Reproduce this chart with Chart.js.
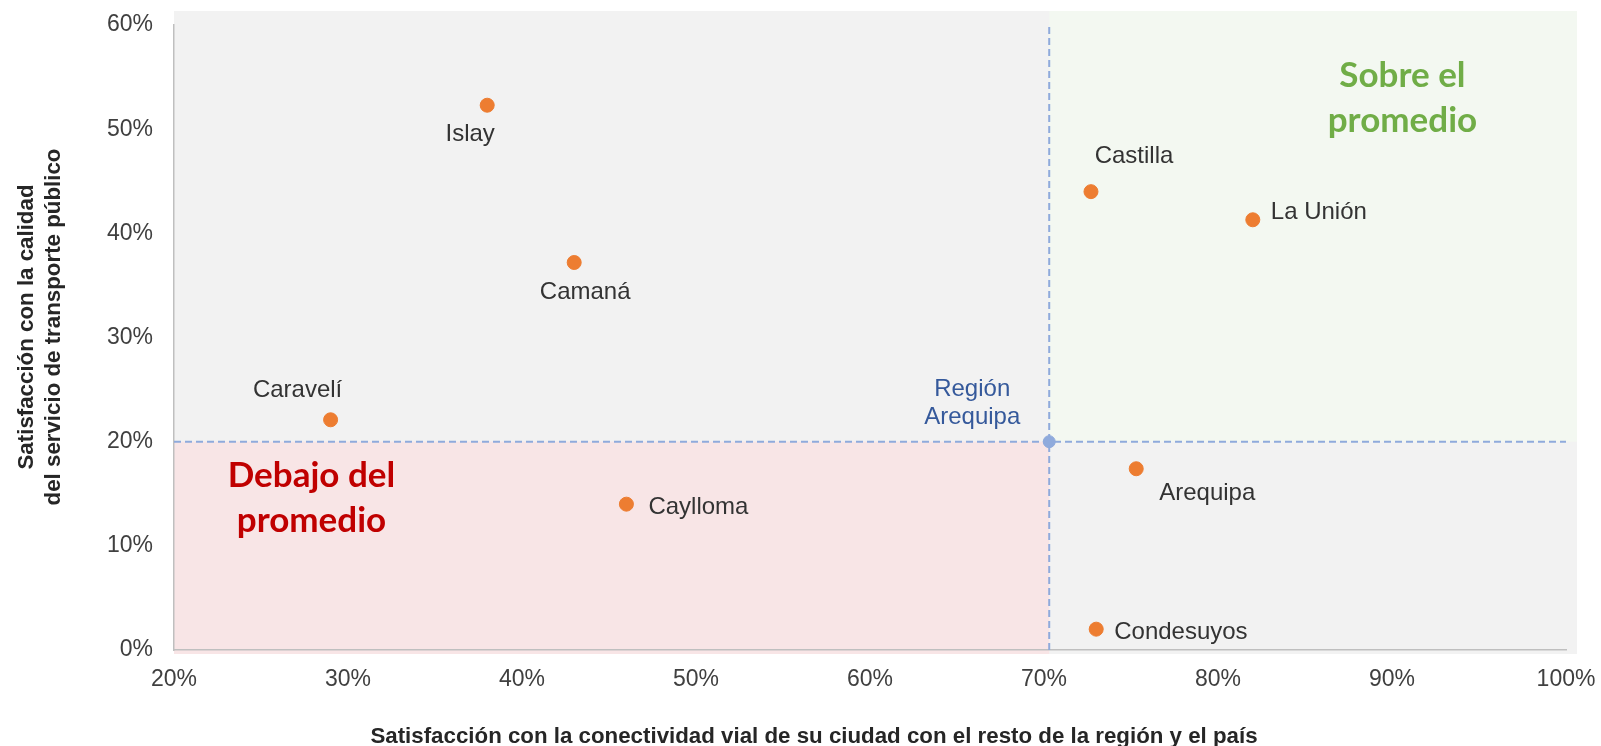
<!DOCTYPE html>
<html>
<head>
<meta charset="utf-8">
<script src="https://cdn.jsdelivr.net/npm/chart.js@4.4.1/dist/chart.umd.min.js"></script>
<style>
  html, body { margin: 0; padding: 0; background: #ffffff; }
  #wrap { width: 1601px; height: 746px; }
</style>
</head>
<body>
<div id="wrap"><canvas id="chart" width="1601" height="746"></canvas></div>
<script>
// provincias de Arequipa
const provincias = ['Islay', 'Camaná', 'Caravelí', 'Caylloma', 'Castilla', 'La Unión', 'Arequipa', 'Condesuyos'];
// eje X: satisfacción con la conectividad vial
const conectividad = [0.380, 0.430, 0.290, 0.460, 0.727, 0.820, 0.753, 0.730];
// eje Y: satisfacción con el transporte público
const transporte = [0.523, 0.372, 0.221, 0.140, 0.440, 0.413, 0.174, 0.020];
// promedio regional
const regionNombre = ['Región', 'Arequipa'];
const regionX = 0.703;
const regionY = 0.200;
// rangos y marcas de los ejes
const xTicks = [0.2, 0.3, 0.4, 0.5, 0.6, 0.7, 0.8, 0.9, 1.0];
const yTicks = [0, 0.1, 0.2, 0.3, 0.4, 0.5, 0.6];

// where each label sits relative to its dot (px), and its alignment
const labelOffsets = [
  { dx: -17, dy: 29, align: 'center' },
  { dx: 11, dy: 30, align: 'center' },
  { dx: -33, dy: -29, align: 'center' },
  { dx: 22, dy: 3, align: 'left' },
  { dx: 43, dy: -35, align: 'center' },
  { dx: 18, dy: -7, align: 'left' },
  { dx: 71, dy: 25, align: 'center' },
  { dx: 18, dy: 3, align: 'left' }
];

const quadrantNotes = [
  { lines: ['Sobre el', 'promedio'], color: '#70AD47', x: 0.906, y: 0.530 },
  { lines: ['Debajo del', 'promedio'], color: '#C00000', x: 0.279, y: 0.146 }
];

const FONT = "'Liberation Sans', Arial, sans-serif";
const pct = v => Math.round(v * 100) + '%';

const points = provincias.map((p, i) => ({ x: conectividad[i], y: transporte[i] }));

const quadrants = {
  id: 'quadrants',
  beforeDraw(chart) {
    const { ctx, chartArea: a, scales: { x, y } } = chart;
    const xr = x.getPixelForValue(regionX);
    const yr = y.getPixelForValue(regionY);
    const top = a.top - 14, right = a.right + 11, bottom = a.bottom + 4;
    ctx.save();
    ctx.fillStyle = '#F2F2F2';
    ctx.fillRect(a.left, top, right - a.left, bottom - top);
    ctx.fillStyle = '#F3F8F1';
    ctx.fillRect(xr, top, right - xr, yr - top);
    ctx.fillStyle = '#F8E5E6';
    ctx.fillRect(a.left, yr, xr - a.left, bottom - yr);
    ctx.restore();
  },
  afterDraw(chart) {
    const { ctx, scales: { x, y } } = chart;
    ctx.save();
    // data labels
    ctx.font = '24px ' + FONT;
    ctx.fillStyle = '#333333';
    ctx.textBaseline = 'middle';
    const meta = chart.getDatasetMeta(0);
    meta.data.forEach((pt, i) => {
      const o = labelOffsets[i];
      ctx.textAlign = o.align;
      ctx.fillText(provincias[i], pt.x + o.dx, pt.y + o.dy);
    });
    // region label
    const rp = chart.getDatasetMeta(1).data[0];
    ctx.fillStyle = '#35599B';
    ctx.textAlign = 'center';
    regionNombre.forEach((t, i) => ctx.fillText(t, rp.x - 77, rp.y - 52 + i * 28));

    // quadrant notes
    ctx.font = "bold 35px Lato, 'Open Sans', sans-serif";
    quadrantNotes.forEach(n => {
      ctx.fillStyle = n.color;
      const cx = x.getPixelForValue(n.x), cy = y.getPixelForValue(n.y);
      n.lines.forEach((t, i) => ctx.fillText(t, cx, cy + (i - 0.5) * 45));
    });

    // axis titles
    ctx.fillStyle = '#262626';
    ctx.font = 'bold 22.3px ' + FONT;
    ctx.fillText('Satisfacción con la conectividad vial de su ciudad con el resto de la región y el país', 814, 737);
    ctx.translate(27, 327);
    ctx.rotate(-Math.PI / 2);
    ctx.fillText('Satisfacción con la calidad', 0, 0);
    ctx.fillText('del servicio de transporte público', 0, 27);
    ctx.restore();
  }
};

new Chart(document.getElementById('chart'), {
  type: 'scatter',
  data: {
    datasets: [
      {
        label: 'Provincias',
        data: points,
        backgroundColor: '#ED7D31',
        borderColor: '#ED7D31',
        pointRadius: 7,
        pointHoverRadius: 7
      },
      {
        label: 'Región Arequipa',
        data: [{ x: regionX, y: regionY }],
        backgroundColor: '#8FAADC',
        borderColor: '#8FAADC',
        pointRadius: 6
      },
      {
        type: 'line',
        label: 'promedio x',
        data: [{ x: regionX, y: yTicks[0] }, { x: regionX, y: yTicks[yTicks.length - 1] }],
        borderColor: '#8FAADC',
        borderWidth: 2,
        borderDash: [7, 4],
        pointRadius: 0,
        showLine: true
      },
      {
        type: 'line',
        label: 'promedio y',
        data: [{ x: xTicks[0], y: regionY }, { x: xTicks[xTicks.length - 1], y: regionY }],
        borderColor: '#8FAADC',
        borderWidth: 2,
        borderDash: [7, 4],
        pointRadius: 0,
        showLine: true
      }
    ]
  },
  options: {
    responsive: false,
    animation: false,
    layout: { padding: { left: 0, right: 35, top: 25, bottom: 0 } },
    plugins: {
      legend: { display: false },
      tooltip: { enabled: false }
    },
    scales: {
      x: {
        type: 'linear',
        min: xTicks[0],
        max: xTicks[xTicks.length - 1],
        afterFit: s => { s.height = 96; s.paddingLeft = 0; s.paddingRight = 0; },
        afterBuildTicks: s => { s.ticks = xTicks.map(v => ({ value: v })); },
        grid: { display: false, drawTicks: false },
        border: { display: true, color: '#BFBFBF', width: 1.5 },
        ticks: {
          padding: 16,
          color: '#404040',
          font: { family: FONT, size: 23 },
          callback: v => pct(v)
        }
      },
      y: {
        type: 'linear',
        min: yTicks[0],
        max: yTicks[yTicks.length - 1],
        afterFit: s => { s.width = 174; s.paddingTop = 0; s.paddingBottom = 0; },
        afterBuildTicks: s => { s.ticks = yTicks.map(v => ({ value: v })); },
        grid: { display: false, drawTicks: false },
        border: { display: true, color: '#BFBFBF', width: 1.5 },
        ticks: {
          padding: 21,
          color: '#404040',
          font: { family: FONT, size: 23 },
          callback: v => pct(v)
        }
      }
    }
  },
  plugins: [quadrants]
});
</script>
</body>
</html>
